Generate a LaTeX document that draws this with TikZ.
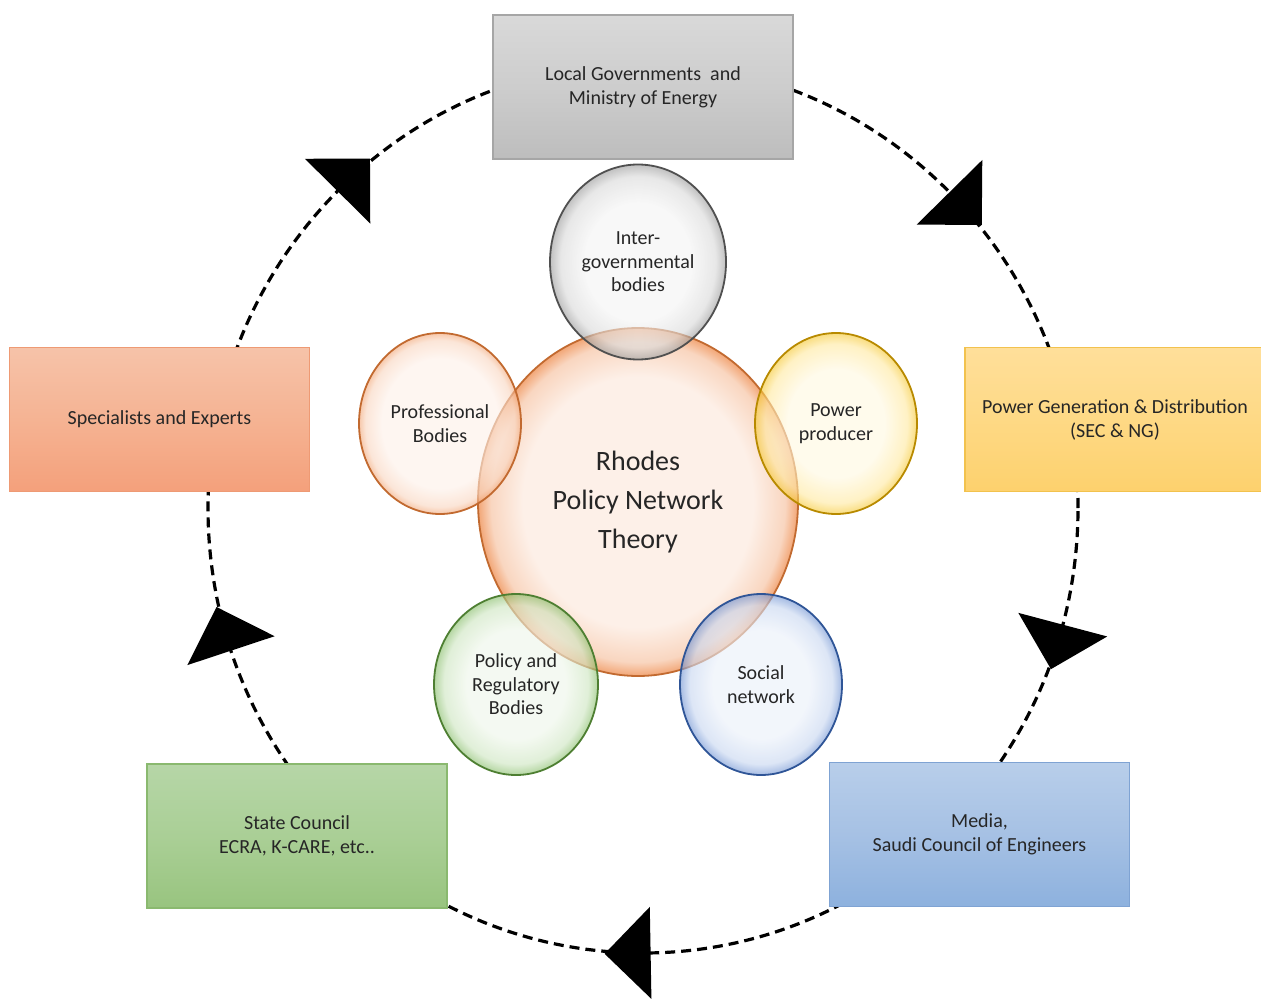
\documentclass[tikz,border=0pt]{standalone}
\usepackage{fontspec}
\setmainfont{Carlito}
\usepackage{tikz}
\usepackage{xcolor}
\usetikzlibrary{calc,positioning,shapes.geometric}
\definecolor{ink}{HTML}{262626}
\definecolor{govtop}{HTML}{D9D9D9}
\definecolor{govmid}{HTML}{CDCDCD}
\definecolor{govbot}{HTML}{BDBDBD}
\definecolor{govline}{HTML}{A6A6A6}
\definecolor{exptop}{HTML}{F6C3A9}
\definecolor{expmid}{HTML}{F5B393}
\definecolor{expbot}{HTML}{F4A07B}
\definecolor{expline}{HTML}{EE9A74}
\definecolor{gentop}{HTML}{FFDF9A}
\definecolor{genmid}{HTML}{FED985}
\definecolor{genbot}{HTML}{FDD16D}
\definecolor{genline}{HTML}{F2C24E}
\definecolor{sttop}{HTML}{B6D6A7}
\definecolor{stmid}{HTML}{AACF96}
\definecolor{stbot}{HTML}{98C47F}
\definecolor{stline}{HTML}{8AB96F}
\definecolor{medtop}{HTML}{B8CEEA}
\definecolor{medmid}{HTML}{A6C1E4}
\definecolor{medbot}{HTML}{8DB1DE}
\definecolor{medline}{HTML}{7FA3D3}
\definecolor{orangein}{HTML}{FDF0E8}
\definecolor{orangemid}{HTML}{F9D6C0}
\definecolor{orangeout}{HTML}{F2A676}
\definecolor{orangeline}{HTML}{C26A30}
\definecolor{grayin}{HTML}{F4F4F4}
\definecolor{graymid}{HTML}{D9D9D9}
\definecolor{grayout}{HTML}{9A9A9A}
\definecolor{grayline}{HTML}{505050}
\definecolor{yellowin}{HTML}{FFF8E0}
\definecolor{yellowmid}{HTML}{FFE9A0}
\definecolor{yellowout}{HTML}{F5C832}
\definecolor{yellowline}{HTML}{B88A00}
\definecolor{greenin}{HTML}{EEF6EA}
\definecolor{greenmid}{HTML}{CDE5C0}
\definecolor{greenout}{HTML}{86BD68}
\definecolor{greenline}{HTML}{4E7F32}
\definecolor{bluein}{HTML}{EAF0F9}
\definecolor{bluemid}{HTML}{C7D6F0}
\definecolor{blueout}{HTML}{6F92D2}
\definecolor{blueline}{HTML}{2F5597}
\pgfdeclareradialshading{ballorange}{\pgfpoint{0bp}{0bp}}{color(0bp)=(orangein); color(18bp)=(orangein); color(23bp)=(orangemid); color(25bp)=(orangeout); color(50bp)=(orangeout)}
\pgfdeclareradialshading{ballgray}{\pgfpoint{0bp}{0bp}}{color(0bp)=(grayin); color(15bp)=(grayin); color(22bp)=(graymid); color(25bp)=(grayout); color(50bp)=(grayout)}
\pgfdeclareradialshading{ballyellow}{\pgfpoint{0bp}{0bp}}{color(0bp)=(yellowin); color(15bp)=(yellowin); color(22bp)=(yellowmid); color(25bp)=(yellowout); color(50bp)=(yellowout)}
\pgfdeclareradialshading{ballgreen}{\pgfpoint{0bp}{0bp}}{color(0bp)=(greenin); color(15bp)=(greenin); color(22bp)=(greenmid); color(25bp)=(greenout); color(50bp)=(greenout)}
\pgfdeclareradialshading{ballblue}{\pgfpoint{0bp}{0bp}}{color(0bp)=(bluein); color(15bp)=(bluein); color(22bp)=(bluemid); color(25bp)=(blueout); color(50bp)=(blueout)}
\tikzset{%
  panel/.style={rectangle,line width=0.6pt,minimum width=150pt,minimum height=72pt,align=center,text=ink,font=\fontsize{10}{12}\selectfont},
  bubble/.style={ellipse,line width=0.9pt,inner sep=0pt,align=center,text=ink,font=\fontsize{10}{11.8}\selectfont,fill opacity=0.62,draw opacity=1,text opacity=1},
  cycleline/.style={line width=1.6pt,dash pattern=on 5pt off 3pt},
  headfill/.style={fill=black},
}

\begin{document}
\begin{tikzpicture}[x=0.5pt,y=0.5pt]
      \useasboundingbox (0,0) rectangle (1261,998);
      \coordinate (centre) at (643,490);
      \draw[cycleline] (centre) ellipse [x radius=435, y radius=445];
      \foreach \t in {134.6,45.2,-15.2,-89,198.7}{
        \pgfmathsetmacro\headang{atan2(-445*cos(\t),435*sin(\t))}
        \fill[headfill,shift={($(centre)+({435*cos(\t)},{445*sin(\t)})$)},rotate=\headang] (0,46) -- (46,0) -- (0,-46) -- cycle;
      }

      \node[panel,draw=govline,top color=govtop,bottom color=govbot,middle color=govmid] (gov) at (643,911) {Local Governments\ \ and\\Ministry of Energy};
      \node[panel,draw=expline,top color=exptop,bottom color=expbot,middle color=expmid] (experts) at (159.5,578.5) {Specialists and Experts};
      \node[panel,draw=genline,top color=gentop,bottom color=genbot,middle color=genmid] (generation) at (1115,578.5) {Power Generation \& Distribution\\(SEC \& NG)};
      \node[panel,draw=stline,top color=sttop,bottom color=stbot,middle color=stmid] (council) at (297,162) {State Council\\ECRA, K-CARE, etc..};
      \node[panel,draw=medline,top color=medtop,bottom color=medbot,middle color=medmid] (media) at (979.5,163.5) {Media,\\Saudi Council of Engineers};

      \node[bubble,draw=orangeline,shading=ballorange,fill opacity=1,minimum width=160pt,minimum height=174pt,font=\fontsize{14}{19.5}\selectfont] (hub) at (638,496) {Rhodes\\Policy Network\\Theory};
      \node[bubble,draw=grayline,shading=ballgray,minimum width=88pt,minimum height=97.5pt] (intergov) at (638,736) {Inter-\\governmental\\bodies};
      \node[bubble,draw=orangeline,shading=ballorange,minimum width=81pt,minimum height=90.5pt] (professional) at (440,574.5) {Professional\\Bodies};
      \node[bubble,draw=yellowline,shading=ballyellow,minimum width=81pt,minimum height=90.5pt] (producer) at (836,574.5) {Power\\producer};
      \node[bubble,draw=greenline,shading=ballgreen,minimum width=82pt,minimum height=90.5pt] (regulatory) at (516,313.5) {Policy and\\Regulatory\\Bodies};
      \node[bubble,draw=blueline,shading=ballblue,minimum width=81pt,minimum height=90.5pt] (social) at (761,313.5) {Social\\network};
    \end{tikzpicture}
\end{document}
